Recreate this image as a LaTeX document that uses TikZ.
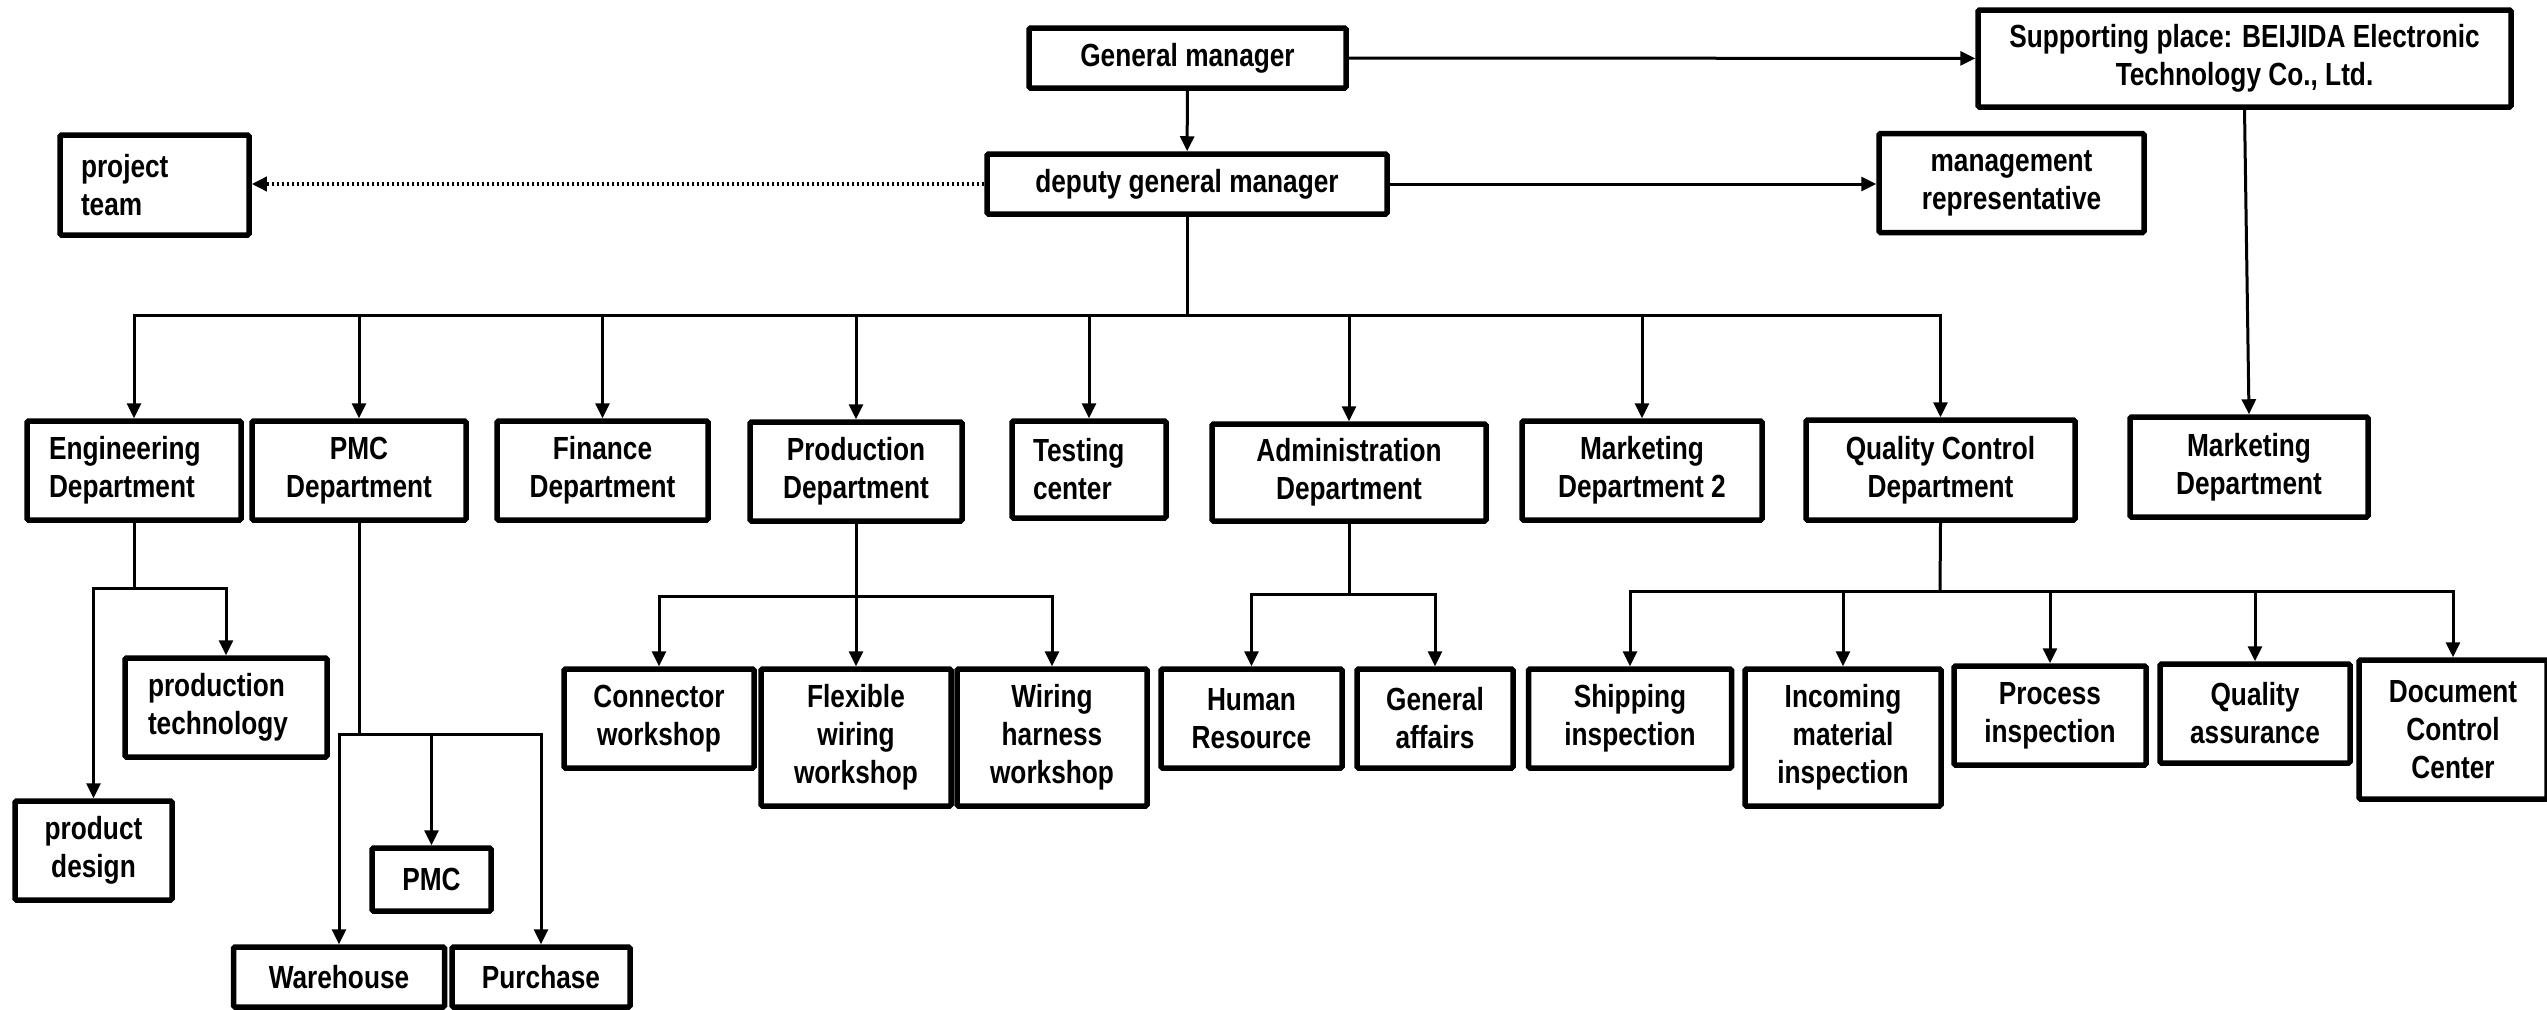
\documentclass[tikz,border=0pt]{standalone}
\usepackage{fontspec}
\setmainfont{Liberation Sans}[FakeStretch=0.82]
\usetikzlibrary{arrows.meta}

\begin{document}
\begin{tikzpicture}[x=1pt,y=-1pt,>={Triangle[length=15pt,width=14pt]},font=\fontsize{32}{38}\selectfont\bfseries]
  \tikzstyle{unit}=[draw=black, line width=5.5pt, rounded corners=1.5pt, fill=white, align=center, inner sep=0pt]
  \tikzstyle{leftunit}=[unit, align=left, inner xsep=22pt]
  \tikzstyle{link}=[->, line width=3pt, draw=black]
  \tikzstyle{wire}=[line width=3pt, draw=black]
  \tikzstyle{dots}=[->, line width=3.5pt, draw=black, dash pattern=on 2.5pt off 2.5pt]

  \path[use as bounding box] (0,0) rectangle (2547,1009);

  % top of the chart
  \node[unit, minimum width=317pt, minimum height=60pt] (gm) at (1187.5,58) {General manager};
  \node[unit, minimum width=533pt, minimum height=97pt] (sup) at (2244.5,58.5) {Supporting place: BEIJIDA Electronic\\Technology Co., Ltd.};
  \node[unit, minimum width=400pt, minimum height=60pt] (dgm) at (1187,184) {deputy general manager};
  \node[leftunit, text width=147pt, inner xsep=21pt, minimum height=100pt] (pt) at (154.5,185) {project\\team};
  \node[unit, minimum width=265pt, minimum height=99pt] (mr) at (2011.5,183) {management\\representative};

  % departments
  \node[leftunit, text width=170pt, minimum height=99pt] (eng) at (134,470.5) {Engineering\\Department};
  \node[unit, minimum width=214pt, minimum height=99pt] (pmcd) at (359,470.5) {PMC\\Department};
  \node[unit, minimum width=211pt, minimum height=99pt] (fin) at (602.5,470.5) {Finance\\Department};
  \node[unit, minimum width=212pt, minimum height=99pt] (prod) at (856,471.5) {Production\\Department};
  \node[leftunit, text width=112pt, inner xsep=21pt, minimum height=97pt] (test) at (1089,469.5) {Testing\\center};
  \node[unit, minimum width=274pt, minimum height=97pt] (adm) at (1349,472.5) {Administration\\Department};
  \node[unit, minimum width=240pt, minimum height=99pt] (mkt2) at (1642,470.5) {Marketing\\Department 2};
  \node[unit, minimum width=269pt, minimum height=100pt] (qc) at (1940.5,470) {Quality Control\\Department};
  \node[unit, minimum width=238pt, minimum height=100pt] (mkt) at (2249,467) {Marketing\\Department};

  % sections
  \node[leftunit, text width=156pt, inner xsep=23pt, minimum height=99pt] (prodtech) at (226,707.5) {production\\technology};
  \node[unit, minimum width=157pt, minimum height=99pt] (pdes) at (93.5,850.5) {product\\design};
  \node[unit, minimum width=119pt, minimum height=63pt] (pmc) at (431.5,879.5) {PMC};
  \node[unit, minimum width=211pt, minimum height=60pt] (wh) at (339,977) {Warehouse};
  \node[unit, minimum width=178pt, minimum height=60pt] (pur) at (541,977) {Purchase};
  \node[unit, minimum width=190pt, minimum height=99pt] (conn) at (659,718.5) {Connector\\workshop};
  \node[unit, minimum width=190pt, minimum height=137pt] (flex) at (856,737.5) {Flexible\\wiring\\workshop};
  \node[unit, minimum width=190pt, minimum height=137pt] (wir) at (1052,737.5) {Wiring\\harness\\workshop};
  \node[unit, minimum width=181pt, minimum height=99pt] (hr) at (1251.5,718.5) {Human\\Resource};
  \node[unit, minimum width=156pt, minimum height=99pt] (ga) at (1435,718.5) {General\\affairs};
  \node[unit, minimum width=203pt, minimum height=99pt] (ship) at (1630,718.5) {Shipping\\inspection};
  \node[unit, minimum width=196pt, minimum height=137pt] (inc) at (1843,737.5) {Incoming\\material\\inspection};
  \node[unit, minimum width=192pt, minimum height=99pt] (proc) at (2050,715.5) {Process\\inspection};
  \node[unit, minimum width=190pt, minimum height=99pt] (qa) at (2255,713.5) {Quality\\assurance};
  \node[unit, minimum width=188pt, minimum height=139pt] (dcc) at (2453,729.5) {Document\\Control\\Center};

  % links
  \draw[link] (gm) -- (dgm);
  \draw[link] (gm) -- (sup);
  \draw[dots] (dgm.west) -- (dgm.west -| pt.east);
  \draw[link] (dgm.east) -- (dgm.east -| mr.west);
  \draw[link] (sup.south) -- (mkt.north);

  \coordinate (bus) at (1187,315);
  \draw[wire] (dgm.south) -- (bus);
  \foreach \d in {eng,pmcd,fin,prod,test,adm,mkt2,qc}
    \draw[link] (bus) -| (\d.north);

  \coordinate (engbus) at (134,588);
  \draw[wire] (eng.south) -- (engbus);
  \foreach \d in {prodtech,pdes}
    \draw[link] (engbus) -| (\d.north);

  \coordinate (pmcbus) at (359,734);
  \draw[wire] (pmcd.south) -- (pmcbus);
  \foreach \d in {pmc,wh,pur}
    \draw[link] (pmcbus) -| (\d.north);

  \coordinate (prodbus) at (856,596);
  \draw[wire] (prod.south) -- (prodbus);
  \foreach \d in {conn,flex,wir}
    \draw[link] (prodbus) -| (\d.north);

  \coordinate (admbus) at (1349,594);
  \draw[wire] (adm.south) -- (admbus);
  \foreach \d in {hr,ga}
    \draw[link] (admbus) -| (\d.north);

  \coordinate (qcbus) at (1940,591);
  \draw[wire] (qc.south) -- (qcbus);
  \foreach \d in {ship,inc,proc,qa,dcc}
    \draw[link] (qcbus) -| (\d.north);
\end{tikzpicture}
\end{document}
